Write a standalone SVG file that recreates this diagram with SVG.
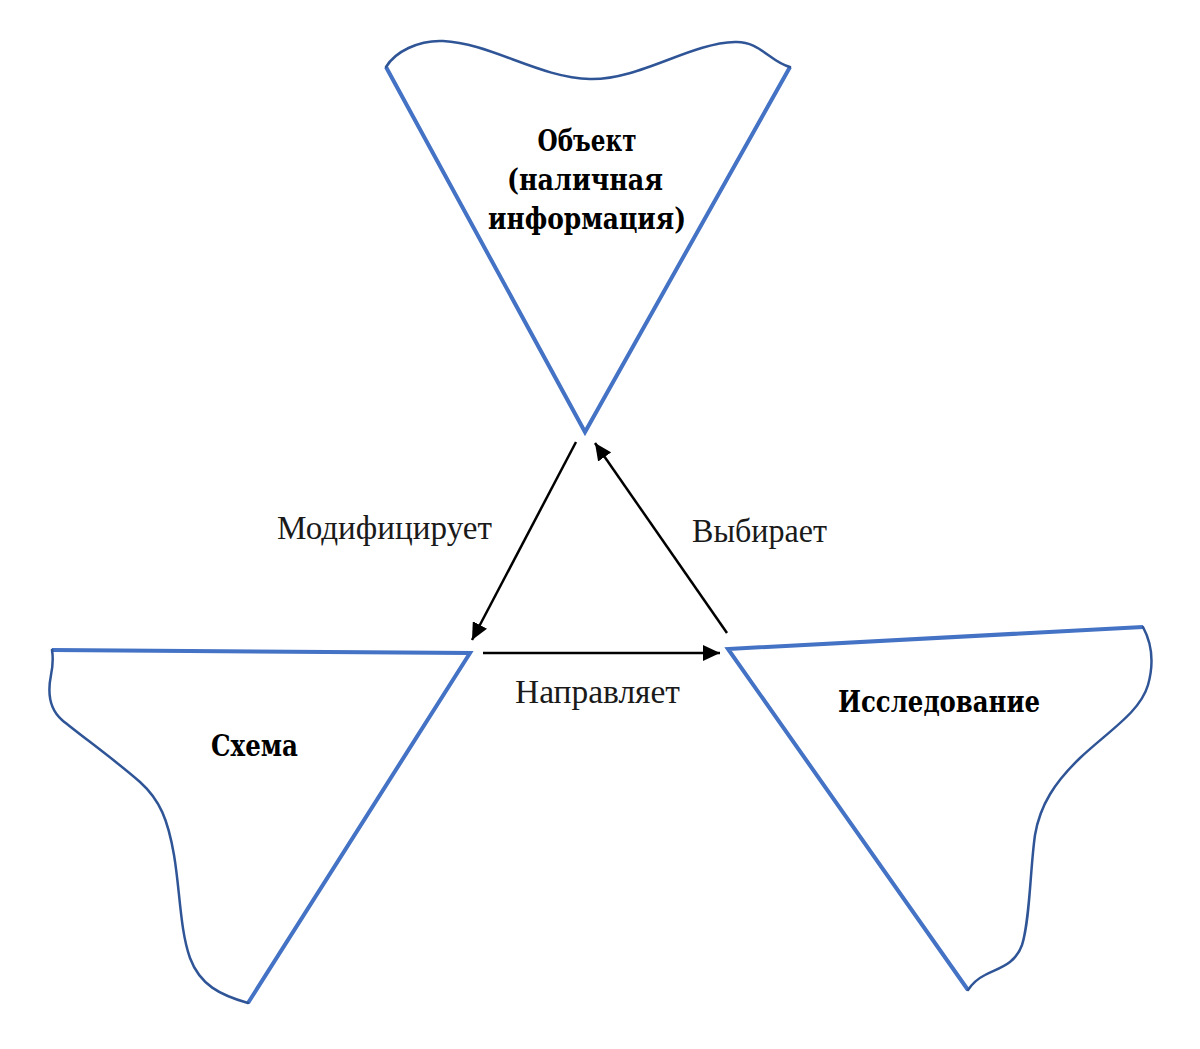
<svg xmlns="http://www.w3.org/2000/svg" width="1200" height="1049" viewBox="0 0 1200 1049">
<defs>
<style>
.edge{fill:none;stroke:#4472C4;stroke-width:4;stroke-linejoin:miter;stroke-linecap:butt}
.wave{fill:none;stroke:#2F5597;stroke-width:2.5;stroke-linecap:round}
.conn{fill:none;stroke:#000;stroke-width:2.5}
.lbl{font-family:"Liberation Serif","DejaVu Serif",serif;font-size:34px;fill:#1a1a1a}
.node{font-family:"DejaVu Serif","Liberation Serif",serif;font-weight:bold;font-size:30px;fill:#000}
</style>
<marker id="arr" markerWidth="18" markerHeight="16" refX="17" refY="8" orient="auto" markerUnits="userSpaceOnUse">
<path d="M0,0 L17,8 L0,16 Z" fill="#000"/>
</marker>
</defs>
<rect width="1200" height="1049" fill="#fff"/>
<g id="node-object">
<path class="edge" d="M386,67 L585,432 L790,67"/>
<path class="wave" d="M386,67 C395,52 418,40 443,41 C490,43 540,78 590,79 C640,80 690,43 735,42 C760,41 770,62 790,67"/>
<text class="node" text-anchor="middle"><tspan x="587" y="151" textLength="99" lengthAdjust="spacingAndGlyphs">Объект</tspan><tspan x="585" y="190" textLength="156" lengthAdjust="spacingAndGlyphs">(наличная</tspan><tspan x="587" y="229" textLength="198" lengthAdjust="spacingAndGlyphs">информация)</tspan></text>
</g>
<g id="node-schema">
<path class="edge" d="M52,650 L470,653 L248,1003"/>
<path class="wave" d="M248,1003 C220,995 200,985 190,958 C180,930 180,890 174,855 C168,820 160,800 140,782 C115,760 80,735 62,720 C48,708 48,690 51,675 C53,665 53,656 52,650"/>
<text class="node" x="211" y="756" textLength="87" lengthAdjust="spacingAndGlyphs">Схема</text>
</g>
<g id="node-research">
<path class="edge" d="M1143,627 L728,649 L968,990"/>
<path class="wave" d="M1143,627 C1150,640 1155,660 1148,685 C1140,712 1110,730 1080,758 C1055,782 1040,805 1035,835 C1030,870 1030,920 1022,945 C1015,965 998,968 985,975 C977,979 972,984 968,990"/>
<text class="node" x="838" y="712" textLength="202" lengthAdjust="spacingAndGlyphs">Исследование</text>
</g>
<g id="connectors">
<line class="conn" x1="576" y1="442" x2="472" y2="640" marker-end="url(#arr)"/>
<line class="conn" x1="483" y1="653" x2="720" y2="653" marker-end="url(#arr)"/>
<line class="conn" x1="727" y1="633" x2="595" y2="443" marker-end="url(#arr)"/>
<text class="lbl" x="277" y="539" textLength="215" lengthAdjust="spacingAndGlyphs">Модифицирует</text>
<text class="lbl" x="515" y="703" textLength="165" lengthAdjust="spacingAndGlyphs">Направляет</text>
<text class="lbl" x="692" y="542" textLength="135" lengthAdjust="spacingAndGlyphs">Выбирает</text>
</g>
</svg>
